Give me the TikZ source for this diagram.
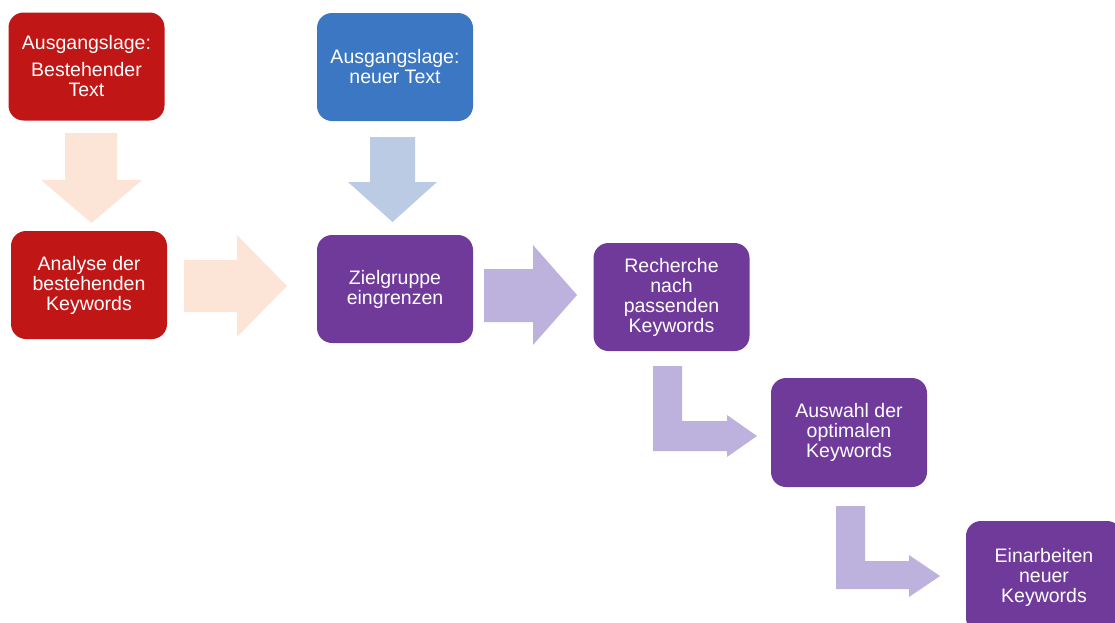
\documentclass[tikz,border=0pt]{standalone}
\usepackage{fontspec}
\setmainfont{Liberation Sans}
\definecolor{cred}{RGB}{193,22,22}
\definecolor{cblue}{RGB}{59,119,194}
\definecolor{cpurple}{RGB}{112,58,155}
\definecolor{cpeach}{RGB}{252,228,214}
\definecolor{clblue}{RGB}{188,203,228}
\definecolor{clav}{RGB}{189,178,222}
\begin{document}
\begin{tikzpicture}[x=1pt,y=-1pt,
  box/.style={rounded corners=15pt, minimum width=156pt, minimum height=108pt,
    text=white, align=center, inner sep=0pt,
    font=\fontsize{19.5pt}{20pt}\selectfont},
  redbox/.style={box, fill=cred},
  bluebox/.style={box, fill=cblue},
  purplebox/.style={box, fill=cpurple}]
\useasboundingbox (0,0) rectangle (1115,622);
\clip (0,0) rectangle (1115,622);
% nodes
\node[redbox] (b1) at (86.5,66.5) {Ausgangslage:\\[7pt]Bestehender\\Text};
\node[redbox] (b2) at (89,285) {Analyse der\\bestehenden\\Keywords};
\node[bluebox] (b3) at (395,67) {Ausgangslage:\\neuer Text};
\node[purplebox] (b4) at (395,289) {Zielgruppe\\eingrenzen};
\node[purplebox] (b5) at (671.5,297) {Recherche\\nach\\passenden\\Keywords};
\node[purplebox, minimum height=109pt] (b6) at (849,432.5) {Auswahl der\\optimalen\\Keywords};
\node[purplebox, minimum height=112pt] (b7) at (1044,577) {Einarbeiten\\neuer\\Keywords};
% block arrows
\fill[cpeach] (65,133) -- (117,133) -- (117,180) -- (142,180) -- (91.5,223) -- (41,180) -- (65,180) -- cycle;
\fill[cpeach] (184,260) -- (237,260) -- (237,235) -- (287,286) -- (237,337) -- (237,312) -- (184,312) -- cycle;
\fill[clblue] (370,137) -- (415,137) -- (415,182) -- (437,182) -- (392.5,222) -- (348,182) -- (370,182) -- cycle;
\fill[clav] (484,269) -- (533,269) -- (533,245) -- (577,295) -- (533,345) -- (533,322) -- (484,322) -- cycle;
\fill[clav] (653,366) -- (682,366) -- (682,421) -- (727,421) -- (727,415) -- (757,436) -- (727,457) -- (727,451) -- (653,451) -- cycle;
\fill[clav] (836,506) -- (865,506) -- (865,561) -- (909,561) -- (909,555) -- (940,576) -- (909,597) -- (909,589) -- (836,589) -- cycle;
\end{tikzpicture}
\end{document}
